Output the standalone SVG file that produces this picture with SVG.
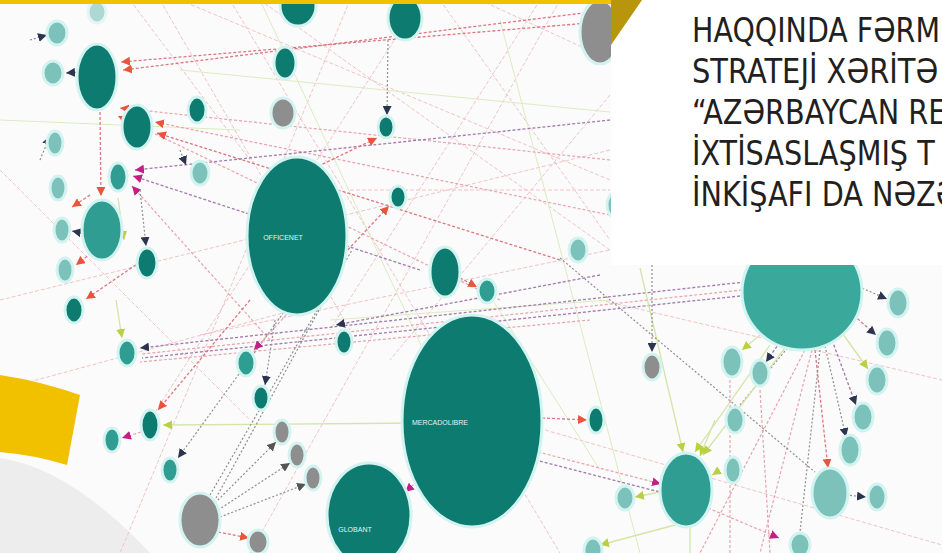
<svg xmlns="http://www.w3.org/2000/svg" width="942" height="553" viewBox="0 0 942 553">
<defs>
<style>
.p{stroke:#e9a3ad;stroke-width:1.2;stroke-dasharray:3 2;fill:none}
.r{stroke:#dc7680;stroke-width:1.3;stroke-dasharray:3 2;fill:none}
.u{stroke:#a27aab;stroke-width:1.3;stroke-dasharray:3 2;fill:none}
.gr{stroke:#d3e5a8;stroke-width:1.3;fill:none}
.k{stroke:#8f8f8f;stroke-width:1.2;stroke-dasharray:2 2;fill:none}
.f{stroke:#f0c4c9;stroke-width:1;stroke-dasharray:4 2;fill:none}
.fg{stroke:#dcebc0;stroke-width:1;fill:none}
.n ellipse{stroke:#d2f3f0;stroke-width:3}
.d ellipse{fill:#0d7b70}
.m ellipse{fill:#2f9d91}
.l ellipse{fill:#7cc2ba}
.g ellipse{fill:#8e8e8e}
.lbl{font-family:"Liberation Sans",Arial,sans-serif;font-size:7px;fill:#e6f4f2;text-anchor:middle}
.hd{font-family:"DejaVu Sans","Noto Sans",sans-serif;font-size:33px;fill:#231f20}
</style>
<marker id="aR" viewBox="0 0 10 10" refX="10" refY="5" markerWidth="9" markerHeight="9" markerUnits="userSpaceOnUse" orient="auto"><path d="M0,0L10,5L0,10z" fill="#e8553a"/></marker>
<marker id="aN" viewBox="0 0 10 10" refX="10" refY="5" markerWidth="9" markerHeight="9" markerUnits="userSpaceOnUse" orient="auto"><path d="M0,0L10,5L0,10z" fill="#2b3550"/></marker>
<marker id="aM" viewBox="0 0 10 10" refX="10" refY="5" markerWidth="9" markerHeight="9" markerUnits="userSpaceOnUse" orient="auto"><path d="M0,0L10,5L0,10z" fill="#c41f86"/></marker>
<marker id="aY" viewBox="0 0 10 10" refX="10" refY="5" markerWidth="9" markerHeight="9" markerUnits="userSpaceOnUse" orient="auto"><path d="M0,0L10,5L0,10z" fill="#b9d044"/></marker>
<marker id="aK" viewBox="0 0 10 10" refX="10" refY="5" markerWidth="9" markerHeight="9" markerUnits="userSpaceOnUse" orient="auto"><path d="M0,0L10,5L0,10z" fill="#555"/></marker>
</defs>

<rect x="0" y="0" width="942" height="553" fill="#fbfbfb"/>
<path d="M0,458 Q70,468 150,553 L0,553 Z" fill="#ededed"/>

<g id="connectors">
<path class="f" d="M160,0L350,330"/>
<path class="f" d="M230,0L560,553"/>
<path class="f" d="M260,0L610,250"/>
<path class="f" d="M420,0L150,420"/>
<path class="f" d="M540,0L330,330"/>
<path class="f" d="M610,95L390,360"/>
<path class="f" d="M440,0L610,240"/>
<path class="f" d="M0,300L610,150"/>
<path class="f" d="M200,335L610,250"/>
<path class="f" d="M350,190L610,190"/>
<path class="f" d="M560,0L250,553"/>
<path class="f" d="M130,0L250,160"/>
<path class="f" d="M0,170L250,420"/>
<path class="f" d="M350,0L120,553"/>
<path class="f" d="M545,430L942,545"/>
<path class="f" d="M600,300L942,380"/>
<path class="f" d="M480,0L610,60"/>
<path class="f" d="M180,0L610,180"/>
<path class="f" d="M0,390L330,300"/>
<path class="fg" d="M180,70L610,112"/>
<path class="fg" d="M260,0L470,450"/>
<path class="fg" d="M480,280L600,470"/>
<path class="fg" d="M500,20L640,553"/>
<path class="fg" d="M330,320L610,300"/>
<path class="fg" d="M0,120L240,130"/>
<path class="r" d="M600,22L121,62" marker-end="url(#aR)"/>
<path class="r" d="M640,6L123,70" marker-end="url(#aR)"/>
<path class="p" d="M610,160L120,108" marker-end="url(#aR)"/>
<path class="p" d="M500,300L118,116" marker-end="url(#aR)"/>
<path class="p" d="M610,215L155,122" marker-end="url(#aR)"/>
<path class="r" d="M560,260L157,133" marker-end="url(#aR)"/>
<path class="u" d="M420,270L133,176" marker-end="url(#aM)"/>
<path class="p" d="M270,340L132,186" marker-end="url(#aM)"/>
<path class="u" d="M610,120L135,170" marker-end="url(#aM)"/>
<path class="k" d="M180,150L186,165" marker-end="url(#aN)"/>
<path class="u" d="M745,282L140,348" marker-end="url(#aN)"/>
<path class="p" d="M742,290L142,354"/>
<path class="u" d="M740,296L142,358"/>
<path class="u" d="M600,275L336,325" marker-end="url(#aN)"/>
<path class="p" d="M590,320L140,362"/>
<path class="r" d="M100,112L101,196" marker-end="url(#aR)"/>
<path class="r" d="M140,262L86,299" marker-end="url(#aR)"/>
<path class="k" d="M140,190L146,246" marker-end="url(#aN)"/>
<path class="gr" d="M118,198L124,240" marker-end="url(#aY)"/>
<path class="gr" d="M116,300L122,338" marker-end="url(#aY)"/>
<path class="k" d="M40,160L50,136" marker-end="url(#aN)"/>
<path class="k" d="M30,40L47,35" marker-end="url(#aN)"/>
<path class="k" d="M80,72L66,73" marker-end="url(#aN)"/>
<path class="k" d="M82,233L72,231" marker-end="url(#aN)"/>
<path class="r" d="M95,250L76,265" marker-end="url(#aR)"/>
<path class="r" d="M90,195L72,207" marker-end="url(#aR)"/>
<path class="r" d="M250,300L158,410" marker-end="url(#aR)"/>
<path class="gr" d="M420,423L163,425" marker-end="url(#aY)"/>
<path class="p" d="M141,432L122,438" marker-end="url(#aM)"/>
<path class="k" d="M300,290L178,458" marker-end="url(#aN)"/>
<path class="k" d="M215,503L276,442" marker-end="url(#aK)"/>
<path class="k" d="M218,510L290,463" marker-end="url(#aK)"/>
<path class="k" d="M220,517L306,484" marker-end="url(#aK)"/>
<path class="k" d="M216,498L330,290"/>
<path class="k" d="M210,495L352,250"/>
<path class="r" d="M218,532L249,538" marker-end="url(#aR)"/>
<path class="k" d="M275,320L265,385" marker-end="url(#aN)"/>
<path class="p" d="M300,300L254,350" marker-end="url(#aM)"/>
<path class="p" d="M440,462L405,492" marker-end="url(#aM)"/>
<path class="r" d="M542,418L587,420" marker-end="url(#aR)"/>
<path class="p" d="M538,452L661,484" marker-end="url(#aM)"/>
<path class="u" d="M535,460L660,492"/>
<path class="r" d="M460,278L477,287" marker-end="url(#aR)"/>
<path class="r" d="M310,290L389,206" marker-end="url(#aR)"/>
<path class="k" d="M388,40L387,115" marker-end="url(#aN)"/>
<path class="r" d="M300,175L377,138" marker-end="url(#aR)"/>
<path class="k" d="M855,285L887,299" marker-end="url(#aN)"/>
<path class="r" d="M850,312L876,335" marker-end="url(#aN)"/>
<path class="gr" d="M840,330L868,369" marker-end="url(#aY)"/>
<path class="u" d="M832,340L856,405" marker-end="url(#aN)"/>
<path class="k" d="M825,346L846,437" marker-end="url(#aN)"/>
<path class="r" d="M815,350L828,468" marker-end="url(#aR)"/>
<path class="u" d="M780,342L766,362" marker-end="url(#aN)"/>
<path class="gr" d="M760,335L742,350" marker-end="url(#aY)"/>
<path class="k" d="M790,345L740,405"/>
<path class="gr" d="M785,348L703,455" marker-end="url(#aY)"/>
<path class="gr" d="M770,345L695,452" marker-end="url(#aY)"/>
<path class="gr" d="M640,268L683,452" marker-end="url(#aY)"/>
<path class="p" d="M805,350L700,553"/>
<path class="p" d="M812,350L760,553"/>
<path class="k" d="M820,350L800,532"/>
<path class="k" d="M846,495L866,497" marker-end="url(#aN)"/>
<path class="gr" d="M660,492L635,497" marker-end="url(#aY)"/>
<path class="gr" d="M675,525L600,545" marker-end="url(#aY)"/>
<path class="p" d="M708,508L779,538" marker-end="url(#aM)"/>
<path class="k" d="M652,265L652,352" marker-end="url(#aN)"/>
<path class="k" d="M560,258L815,472"/>
<path class="gr" d="M715,420L700,456" marker-end="url(#aY)"/>
<path class="gr" d="M720,470L712,475" marker-end="url(#aY)"/>
<path class="p" d="M730,380L730,553"/>
<path class="p" d="M760,390L770,553"/>
<path class="gr" d="M690,528L690,553"/>
</g>

<g id="n1" class="n l"><ellipse cx="57" cy="33" rx="10" ry="12"/></g>
<g id="n2" class="n l" opacity="0.6"><ellipse cx="97" cy="12" rx="9" ry="11"/></g>
<g id="n3" class="n l"><ellipse cx="53" cy="73" rx="10" ry="12"/></g>
<g id="n4" class="n d"><ellipse cx="97" cy="77" rx="20" ry="33"/></g>
<g id="n5" class="n d"><ellipse cx="137" cy="127" rx="15" ry="22"/></g>
<g id="n6" class="n d"><ellipse cx="197" cy="110" rx="9" ry="13"/></g>
<g id="n7" class="n m"><ellipse cx="118" cy="177" rx="9" ry="14"/></g>
<g id="n8" class="n l"><ellipse cx="200" cy="173" rx="9" ry="12"/></g>
<g id="n9" class="n l"><ellipse cx="55" cy="143" rx="8" ry="12"/></g>
<g id="n10" class="n l"><ellipse cx="58" cy="188" rx="8" ry="12"/></g>
<g id="n11" class="n m"><ellipse cx="102" cy="230" rx="20" ry="30"/></g>
<g id="n12" class="n l"><ellipse cx="62" cy="230" rx="8" ry="12"/></g>
<g id="n13" class="n d"><ellipse cx="147" cy="263" rx="10" ry="15"/></g>
<g id="n14" class="n l"><ellipse cx="65" cy="270" rx="8" ry="12"/></g>
<g id="n15" class="n d"><ellipse cx="297" cy="236" rx="50" ry="79"/><text class="lbl" x="283" y="240">OFFICENET</text></g>
<g id="n16" class="n d"><ellipse cx="298" cy="6" rx="18" ry="20"/></g>
<g id="n17" class="n d"><ellipse cx="285" cy="63" rx="11" ry="16"/></g>
<g id="n18" class="n g"><ellipse cx="283" cy="113" rx="12" ry="15"/></g>
<g id="n19" class="n d"><ellipse cx="405" cy="18" rx="17" ry="22"/></g>
<g id="n20" class="n d"><ellipse cx="386" cy="127" rx="8" ry="11"/></g>
<g id="n21" class="n d"><ellipse cx="398" cy="197" rx="8" ry="11"/></g>
<g id="n22" class="n d"><ellipse cx="445" cy="272" rx="15" ry="25"/></g>
<g id="n23" class="n m"><ellipse cx="487" cy="291" rx="9" ry="12"/></g>
<g id="n24" class="n g"><ellipse cx="600" cy="32" rx="20" ry="32"/></g>
<g id="n25" class="n l"><ellipse cx="578" cy="250" rx="9" ry="12"/></g>
<g id="n26" class="n d"><ellipse cx="74" cy="310" rx="9" ry="13"/></g>
<g id="n27" class="n m"><ellipse cx="127" cy="353" rx="9" ry="13"/></g>
<g id="n28" class="n m"><ellipse cx="246" cy="363" rx="9" ry="13"/></g>
<g id="n29" class="n d"><ellipse cx="261" cy="398" rx="8" ry="12"/></g>
<g id="n30" class="n d"><ellipse cx="344" cy="342" rx="8" ry="12"/></g>
<g id="n31" class="n d"><ellipse cx="150" cy="425" rx="9" ry="15"/></g>
<g id="n32" class="n m"><ellipse cx="112" cy="440" rx="8" ry="12"/></g>
<g id="n33" class="n m"><ellipse cx="170" cy="470" rx="8" ry="12"/></g>
<g id="n34" class="n g"><ellipse cx="200" cy="520" rx="20" ry="27"/></g>
<g id="n35" class="n g"><ellipse cx="282" cy="432" rx="8" ry="12"/></g>
<g id="n36" class="n g"><ellipse cx="297" cy="455" rx="8" ry="12"/></g>
<g id="n37" class="n g"><ellipse cx="313" cy="478" rx="8" ry="12"/></g>
<g id="n38" class="n g"><ellipse cx="258" cy="542" rx="10" ry="12"/></g>
<g id="n39" class="n d"><ellipse cx="472" cy="421" rx="70" ry="106"/><text class="lbl" x="440" y="425">MERCADOLIBRE</text></g>
<g id="n40" class="n d"><ellipse cx="596" cy="420" rx="8" ry="13"/></g>
<g id="n41" class="n d"><ellipse cx="369" cy="515" rx="42" ry="52"/><text class="lbl" x="355" y="532">GLOBANT</text></g>
<g id="n42" class="n l"><ellipse cx="625" cy="498" rx="9" ry="12"/></g>
<g id="n43" class="n"><ellipse cx="802" cy="292" rx="60" ry="58" fill="#3ba89c"/></g>
<g id="n44" class="n g"><ellipse cx="652" cy="367" rx="9" ry="13"/></g>
<g id="n45" class="n l"><ellipse cx="732" cy="362" rx="10" ry="15"/></g>
<g id="n46" class="n l"><ellipse cx="760" cy="373" rx="9" ry="13"/></g>
<g id="n47" class="n l"><ellipse cx="735" cy="420" rx="9" ry="13"/></g>
<g id="n48" class="n l"><ellipse cx="733" cy="470" rx="8" ry="13"/></g>
<g id="n49" class="n m"><ellipse cx="686" cy="490" rx="26" ry="37"/></g>
<g id="n50" class="n l"><ellipse cx="830" cy="493" rx="18" ry="25"/></g>
<g id="n51" class="n l"><ellipse cx="877" cy="497" rx="9" ry="13"/></g>
<g id="n52" class="n l"><ellipse cx="898" cy="303" rx="10" ry="14"/></g>
<g id="n53" class="n l"><ellipse cx="887" cy="343" rx="10" ry="14"/></g>
<g id="n54" class="n l"><ellipse cx="877" cy="380" rx="10" ry="14"/></g>
<g id="n55" class="n l"><ellipse cx="863" cy="417" rx="10" ry="14"/></g>
<g id="n56" class="n l"><ellipse cx="850" cy="450" rx="10" ry="15"/></g>
<g id="n57" class="n l"><ellipse cx="593" cy="550" rx="9" ry="12"/></g>
<g id="n58" class="n l"><ellipse cx="800" cy="545" rx="10" ry="12"/></g>
<g id="n59" class="n l"><ellipse cx="616" cy="205" rx="9" ry="13"/></g>

<rect x="0" y="0" width="612" height="4" fill="#f1c100"/>
<path d="M0,375 Q40,381 80,395 L67,465 Q35,455 0,452 Z" fill="#f1c100"/>

<g id="textbox">
<rect x="611" y="0" width="331" height="265" fill="#ffffff"/>
<path d="M611,0 L642,0 L611,45 Z" fill="#b8950c"/>
<g transform="translate(692,0) scale(0.87,1)">
<text class="hd" x="0" y="42" textLength="285" lengthAdjust="spacingAndGlyphs">HAQQINDA FƏRM</text>
<text class="hd" x="0" y="83" textLength="283" lengthAdjust="spacingAndGlyphs">STRATEJİ XƏRİTƏ</text>
<text class="hd" x="0" y="124">“AZƏRBAYCAN RE</text>
<text class="hd" x="0" y="165">İXTİSASLAŞMIŞ T</text>
<text class="hd" x="0" y="206">İNKİŞAFI DA NƏZƏ</text>
</g>
</g>
</svg>
